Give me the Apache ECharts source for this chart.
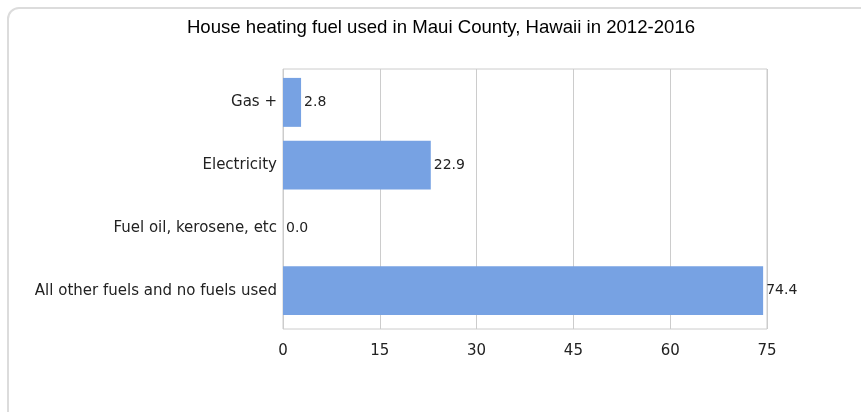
<!DOCTYPE html>
<html><head><meta charset="utf-8">
<script src="https://cdn.jsdelivr.net/npm/echarts@6/dist/echarts.min.js"></script>
<style>
html,body{margin:0;padding:0;width:861px;height:412px;overflow:hidden;background:#fff;}
#frame{position:absolute;left:7px;top:7px;width:900px;height:440px;border:2px solid #dcdcdc;border-radius:12px;box-sizing:border-box;}
#chart{position:absolute;left:0;top:0;width:861px;height:412px;}
</style></head>
<body>
<div id="frame"></div>
<div id="chart"></div>
<script>
const titleText = 'House heating fuel used in Maui County, Hawaii in 2012-2016';
const categories = ['Gas +', 'Electricity', 'Fuel oil, kerosene, etc', 'All other fuels and no fuels used'];
const values = [2.8, 22.9, 0.0, 74.4];
const xMin = 0, xMax = 75, xInterval = 15;

const labelFont = 'DejaVu Sans, Verdana, sans-serif';
const chart = echarts.init(document.getElementById('chart'), null, {renderer: 'canvas'});
chart.setOption({
  animation: false,
  backgroundColor: 'transparent',
  title: {
    text: titleText, left: 436, textAlign: 'center', top: 13,
    textStyle: {fontFamily: 'Liberation Sans, Arial, sans-serif', fontSize: 18.6, fontWeight: 'normal', color: '#000'}
  },
  grid: [
    {left: 283, top: 71, width: 484, height: 251, show: false},
    {left: 283, top: 69, width: 484, height: 260, show: true, borderColor: '#cccccc', borderWidth: 1, backgroundColor: 'transparent'}
  ],
  xAxis: [
    {
      gridIndex: 0, type: 'value', min: xMin, max: xMax, interval: xInterval,
      axisLine: {show: false}, axisTick: {show: false}, splitLine: {show: false}, axisLabel: {show: false}
    },
    {
      gridIndex: 1, type: 'value', min: xMin, max: xMax, interval: xInterval,
      axisLine: {show: false}, axisTick: {show: false},
      splitLine: {show: true, lineStyle: {color: '#cccccc', width: 1}},
      axisLabel: {margin: 15, color: '#222', fontFamily: labelFont, fontSize: 15}
    }
  ],
  yAxis: [
    {
      gridIndex: 0, type: 'category', data: categories, inverse: true,
      axisLine: {show: false}, axisTick: {show: false}, splitLine: {show: false},
      axisLabel: {margin: 6, color: '#222', fontFamily: labelFont, fontSize: 15}
    },
    {
      gridIndex: 1, type: 'value', show: false, splitLine: {show: false}
    }
  ],
  series: [{
    type: 'bar', xAxisIndex: 0, yAxisIndex: 0, data: values, barCategoryGap: '22%',
    itemStyle: {color: '#77a2e3'},
    label: {show: true, position: 'right', distance: 3, color: '#222',
      fontFamily: labelFont, fontSize: 14,
      formatter: p => p.value.toFixed(1)}
  }]
});
</script>
</body></html>
